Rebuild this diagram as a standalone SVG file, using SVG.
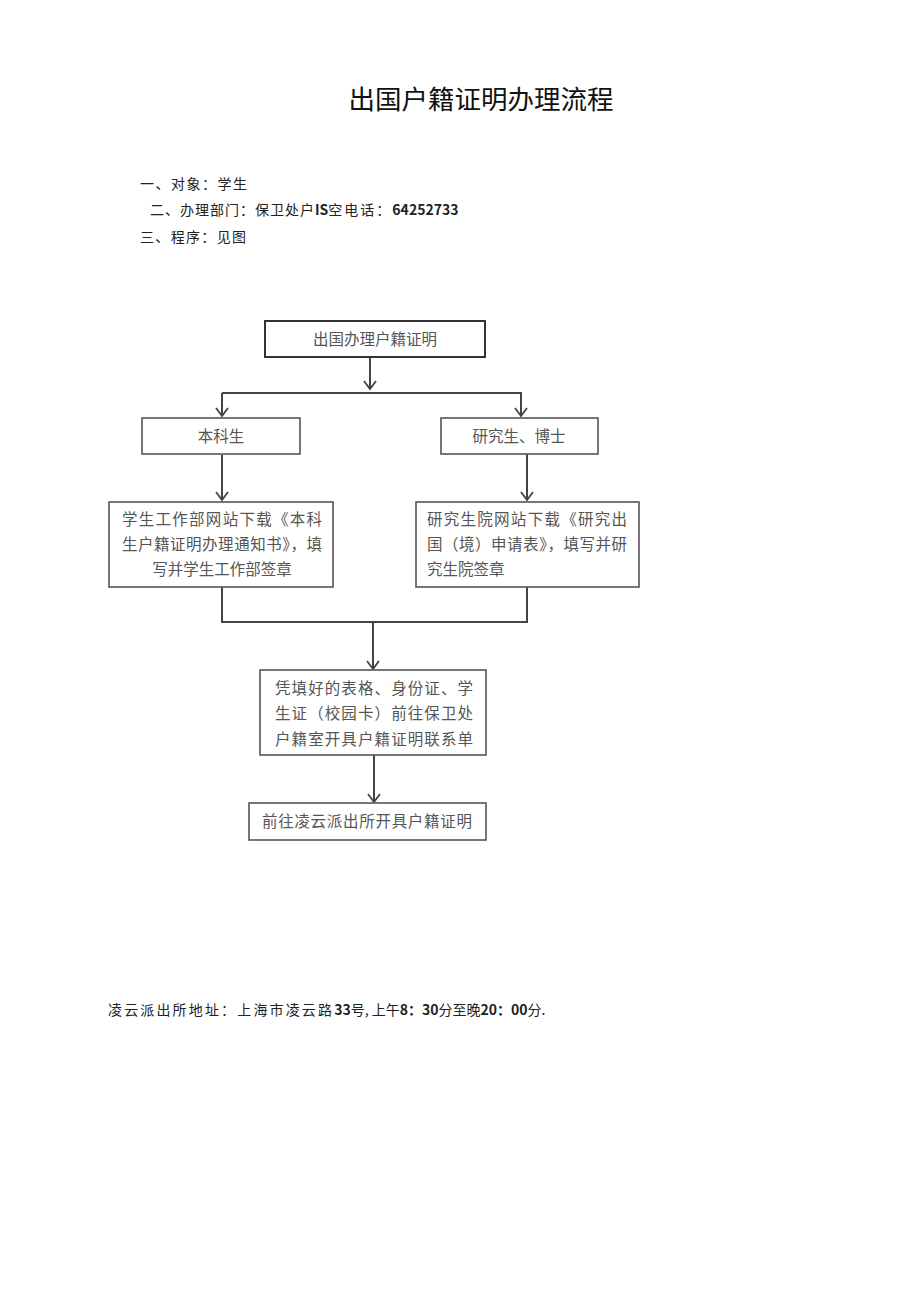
<svg xmlns="http://www.w3.org/2000/svg" width="920" height="1301" viewBox="0 0 920 1301">
<defs>
<style>
.title{font-family:"Noto Sans CJK SC","Liberation Sans",sans-serif;font-size:26.5px;fill:#111}
.hdr{font-family:"Noto Sans CJK SC","Liberation Sans",sans-serif;font-size:14px;fill:#222}
.b{font-weight:bold}
.box{fill:#fff;stroke:#555;stroke-width:1.6}
.box1{fill:#fff;stroke:#333;stroke-width:2}
.bt{font-family:"Noto Sans CJK SC","Liberation Sans",sans-serif;font-size:15.5px;fill:#555;text-anchor:middle}
.ln{fill:none;stroke:#444;stroke-width:2}
</style>
<marker id="arr" markerWidth="14" markerHeight="14" refX="12" refY="7" orient="auto" markerUnits="userSpaceOnUse" viewBox="0 0 14 14">
<polyline points="4,1 12,7 4,13" fill="none" stroke="#444" stroke-width="1.8"/>
</marker>
</defs>
<rect width="920" height="1301" fill="#fff"/>
<text class="title" x="481" y="109" text-anchor="middle">出国户籍证明办理流程</text>
<g id="header">
<text class="hdr" x="140" y="189" textLength="107" lengthAdjust="spacing">一、对象：学生</text>
<text class="hdr" x="150" y="215"><tspan textLength="164" lengthAdjust="spacing">二、办理部门：保卫处户</tspan><tspan class="b">IS</tspan><tspan textLength="62" lengthAdjust="spacing">空电话：</tspan><tspan class="b">64252733</tspan></text>
<text class="hdr" x="140" y="242" textLength="106" lengthAdjust="spacing">三、程序：见图</text>
</g>
<g id="connectors">
<line class="ln" x1="370" y1="357" x2="370" y2="389" marker-end="url(#arr)"/>
<polyline class="ln" points="222,393 521,393 521,416" marker-end="url(#arr)"/>
<line class="ln" x1="222" y1="393" x2="222" y2="416" marker-end="url(#arr)"/>
<line class="ln" x1="222" y1="455" x2="222" y2="500" marker-end="url(#arr)"/>
<line class="ln" x1="527" y1="454" x2="527" y2="500" marker-end="url(#arr)"/>
<polyline class="ln" points="222,587 222,622 527,622 527,587"/>
<line class="ln" x1="373" y1="622" x2="373" y2="669" marker-end="url(#arr)"/>
<line class="ln" x1="374" y1="755" x2="374" y2="802" marker-end="url(#arr)"/>
</g>
<g id="n1">
<rect class="box1" x="265" y="321" width="220" height="36"/>
<text class="bt" x="375" y="345">出国办理户籍证明</text>
</g>
<g id="n2">
<rect class="box" x="142" y="418" width="158" height="36"/>
<text class="bt" x="221" y="442">本科生</text>
</g>
<g id="n3">
<rect class="box" x="441" y="418" width="157" height="36"/>
<text class="bt" x="519" y="442">研究生、博士</text>
</g>
<g id="n4">
<rect class="box" x="109" y="502" width="224" height="85"/>
<text class="bt" x="222" y="525" textLength="200" lengthAdjust="spacing">学生工作部网站下载《本科</text>
<text class="bt" x="222" y="550" textLength="200" lengthAdjust="spacing">生户籍证明办理通知书》，填</text>
<text class="bt" x="222" y="575">写并学生工作部签章</text>
</g>
<g id="n5">
<rect class="box" x="416" y="502" width="223" height="85"/>
<text class="bt" x="527" y="525" textLength="200" lengthAdjust="spacing">研究生院网站下载《研究出</text>
<text class="bt" x="527" y="550" textLength="200" lengthAdjust="spacing">国（境）申请表》，填写并研</text>
<text class="bt" x="427" y="575" style="text-anchor:start">究生院签章</text>
</g>
<g id="n6">
<rect class="box" x="260" y="670" width="226" height="85"/>
<text class="bt" x="374" y="694" textLength="198" lengthAdjust="spacing">凭填好的表格、身份证、学</text>
<text class="bt" x="374" y="719" textLength="198" lengthAdjust="spacing">生证（校园卡）前往保卫处</text>
<text class="bt" x="374" y="745" textLength="198" lengthAdjust="spacing">户籍室开具户籍证明联系单</text>
</g>
<g id="n7">
<rect class="box" x="249" y="803" width="237" height="37"/>
<text class="bt" x="367" y="827" textLength="210" lengthAdjust="spacing">前往凌云派出所开具户籍证明</text>
</g>
<g id="footer">
<text class="hdr" x="108" y="1015"><tspan textLength="224" lengthAdjust="spacing">凌云派出所地址：上海市凌云路</tspan><tspan class="b">33</tspan><tspan>号, 上午</tspan><tspan class="b">8：30</tspan><tspan>分至晚</tspan><tspan class="b">20：00</tspan><tspan>分.</tspan></text>
</g>
</svg>
